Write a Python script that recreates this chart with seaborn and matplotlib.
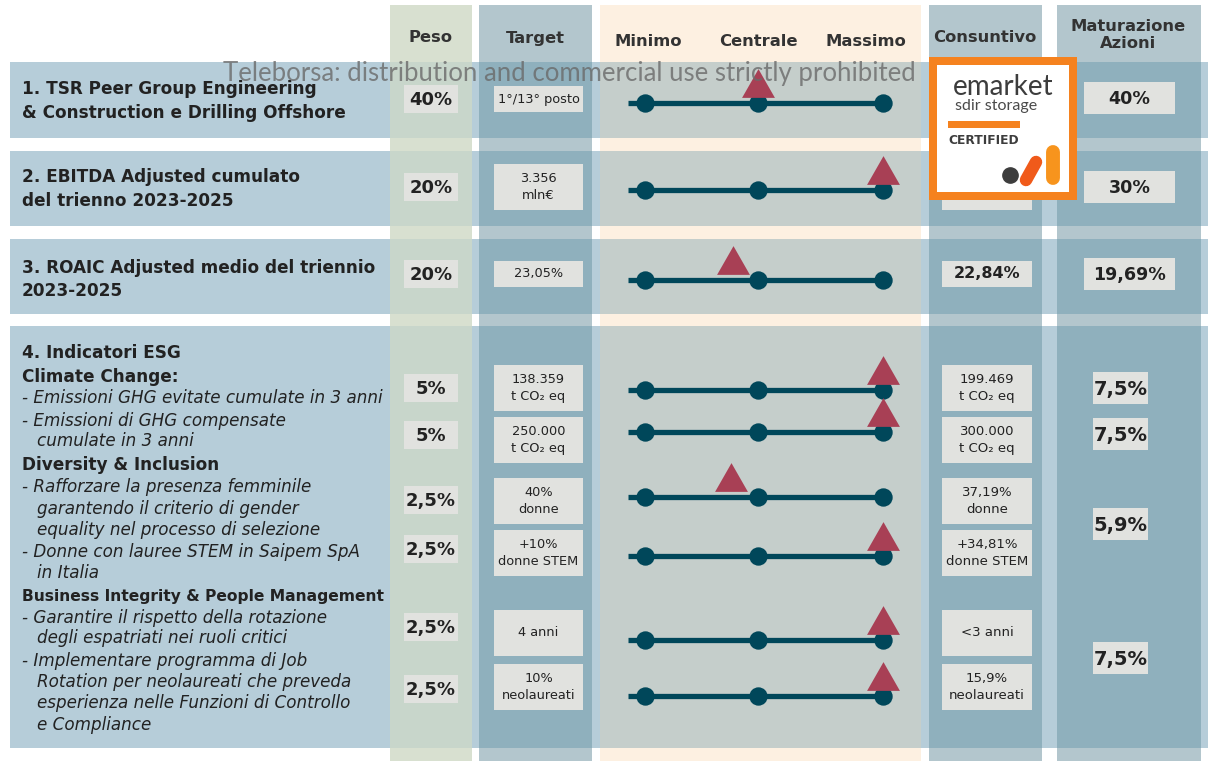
import numpy as np
import pandas as pd
import matplotlib
matplotlib.use("Agg")
import matplotlib.pyplot as plt
from matplotlib.patches import Rectangle
import seaborn as sns

# ---------------- data ----------------
headers = ["Peso", "Target", "Minimo", "Centrale", "Massimo", "Consuntivo", "Maturazione\nAzioni"]
peso = ["40%", "20%", "20%", "5%", "5%", "2,5%", "2,5%", "2,5%", "2,5%"]
target = ["1°/13° posto", "3.356\nmln€", "23,05%",
          "138.359\nt CO₂ eq", "250.000\nt CO₂ eq", "40%\ndonne",
          "+10%\ndonne STEM", "4 anni", "10%\nneolaureati"]
consuntivo = ["", "", "22,84%",
              "199.469\nt CO₂ eq", "300.000\nt CO₂ eq", "37,19%\ndonne",
              "+34,81%\ndonne STEM", "<3 anni", "15,9%\nneolaureati"]
# achievement on the scale 0 = Minimo, 1 = Centrale, 2 = Massimo
scale_levels = [0, 1, 2]
achievement = [1.0, 2.0, 0.78, 2.0, 2.0, 0.76, 2.0, 2.0, 2.0]
maturazione = ["40%", "30%", "19,69%", "7,5%", "7,5%", "5,9%", "7,5%"]

section_lines = [
    ("1. TSR Peer Group Engineering", "b"), ("& Construction e Drilling Offshore", "b"),
    ("2. EBITDA Adjusted cumulato", "b"), ("del trienno 2023-2025", "b"),
    ("3. ROAIC Adjusted medio del triennio", "b"), ("2023-2025", "b"),
    ("4. Indicatori ESG", "b"), ("Climate Change:", "b"),
    ("- Emissioni GHG evitate cumulate in 3 anni", "i"),
    ("- Emissioni di GHG compensate", "i"), ("cumulate in 3 anni", "i2"),
    ("Diversity & Inclusion", "b"),
    ("- Rafforzare la presenza femminile", "i"), ("garantendo il criterio di gender", "i2"),
    ("equality nel processo di selezione", "i2"),
    ("- Donne con lauree STEM in Saipem SpA", "i"), ("in Italia", "i2"),
    ("Business Integrity & People Management", "bs"),
    ("- Garantire il rispetto della rotazione", "i"), ("degli espatriati nei ruoli critici", "i2"),
    ("- Implementare programma di Job", "i"), ("Rotation per neolaureati che preveda", "i2"),
    ("esperienza nelle Funzioni di Controllo", "i2"), ("e Compliance", "i2"),
]

# ---------------- layout (pixels) ----------------
W, H = 1208, 761
line_y = [103, 190, 280, 390, 432, 497, 556, 640, 696]
peso_y = [99, 187, 274, 388, 435, 500, 549, 627, 689]
box_y = [99, 187, 274, 388, 440, 501, 553, 633, 687]
mat_y = [98, 187, 274, 388, 434, 524, 658]
label_y = [89, 113, 177, 201, 268, 291, 353, 377, 398, 421, 441, 465, 487, 509, 530,
           552, 573, 596, 618, 638, 661, 682, 703, 725]
row_bands = [(62, 138), (151, 226), (239, 314), (326, 748)]
cols = [(390, 472, "#d8e0d0", "#c8d6cb"), (479, 592, "#b3c6cd", "#8fb0bd"),
        (600, 921, "#fdf0e1", "#c5cecb"), (929, 1042, "#b3c6cd", "#8fb0bd"),
        (1057, 1201, "#b3c6cd", "#8fb0bd")]
scale_px = [645, 758, 883]

sns.set_theme(style="white")
plt.rcParams["font.family"] = ["DejaVu Sans"]

fig = plt.figure(figsize=(W / 100, H / 100), dpi=100)
ax = fig.add_axes([0, 0, 1, 1])
ax.set_xlim(0, W)
ax.set_ylim(H, 0)
ax.axis("off")

TXT = "#222222"
BOX = "#e1e2df"

def rect(x0, y0, x1, y1, color, z):
    ax.add_patch(Rectangle((x0, y0), x1 - x0, y1 - y0, facecolor=color, edgecolor="none", zorder=z))

# columns (outside rows)
for x0, x1, c_out, c_in in cols:
    rect(x0, 5, x1, H, c_out, 1)
# row bands
for y0, y1 in row_bands:
    rect(10, y0, W, y1, "#b6cdd9", 2)
    for x0, x1, c_out, c_in in cols:
        rect(x0, y0, x1, y1, c_in, 3)

# headers
hx = [431, 535, 648, 758, 866, 985, 1128]
hy = [38, 38, 42, 42, 42, 38, 35]
for t, x, y in zip(headers, hx, hy):
    ax.text(x, y, t, ha="center", va="center", fontsize=11.8, fontweight="bold",
            color="#333333", linespacing=1.2, zorder=6)

# section labels
for (t, st), y in zip(section_lines, label_y):
    if st in ("b", "bs"):
        ax.text(22, y, t, ha="left", va="center", fontsize=12.2 if st == "b" else 11.2,
                fontweight="bold", color=TXT, zorder=6)
    else:
        x = 22 if st == "i" else 37
        ax.text(x, y, t, ha="left", va="center", fontsize=12.1,
                fontstyle="italic", color=TXT, zorder=6)

# peso boxes
for t, y in zip(peso, peso_y):
    rect(404, y - 14, 458, y + 14, BOX, 4)
    ax.text(431, y + 1, t, ha="center", va="center", fontsize=13, fontweight="bold", color=TXT, zorder=6)

# target & consuntivo boxes
for i, (t, c, y) in enumerate(zip(target, consuntivo, box_y)):
    h = 13 if i in (0, 2) else 23
    rect(494, y - h, 583, y + h, BOX, 4)
    ax.text(538.5, y, t, ha="center", va="center", fontsize=9.3,
            color=TXT, linespacing=1.4, zorder=6)
    rect(942, y - h, 1032, y + h, BOX, 4)
    ax.text(987, y, c, ha="center", va="center", fontsize=11.5 if i == 2 else 9.5,
            fontweight="bold" if i == 2 else "normal", color=TXT, linespacing=1.4, zorder=6)

# maturazione boxes
for i, (t, y) in enumerate(zip(maturazione, mat_y)):
    if i < 3:
        rect(1084, y - 16, 1175, y + 16, BOX, 4)
        ax.text(1129.5, y + 1, t, ha="center", va="center", fontsize=12.6, fontweight="bold", color=TXT, zorder=6)
    else:
        rect(1093, y - 16, 1148, y + 16, BOX, 4)
        ax.text(1120.5, y + 1, t, ha="center", va="center", fontsize=14, fontweight="bold", color=TXT, zorder=6)

# dumbbell scale
TEAL = "#00475a"
ax.hlines(line_y, 628, scale_px[-1], color=TEAL, lw=3.8, zorder=7)
dots = pd.DataFrame([(np.interp(l, scale_levels, scale_px), y) for y in line_y for l in scale_levels],
                    columns=["x", "y"])
sns.scatterplot(data=dots, x="x", y="y", s=175, color=TEAL, linewidth=0, ax=ax, zorder=8, legend=False)

tri_marker = [(-1, -0.875), (1, -0.875), (0, 0.875), (-1, -0.875)]
tris = pd.DataFrame({"x": np.interp(achievement, scale_levels, scale_px),
                     "y": np.array(line_y) - 20})
sns.scatterplot(data=tris, x="x", y="y", marker=tri_marker, s=560, color="#a84055",
                linewidth=0, ax=ax, zorder=9, legend=False)

# watermark
ax.text(569, 74, "Teleborsa: distribution and commercial use strictly prohibited",
        ha="center", va="center", fontsize=18.5, color="#6a6a6a", alpha=0.8,
        family=["Lato", "DejaVu Sans"], zorder=12)

# certification badge
rect(929, 57, 1077, 200, "#f5821f", 13)
rect(937, 65, 1069, 192, "white", 14)
ax.text(1003, 87, "emarket", ha="center", va="center", fontsize=20, color="#3d3d3d",
        family=["Lato", "DejaVu Sans"], zorder=15)
ax.text(996, 106, "sdir storage", ha="center", va="center", fontsize=11.5, color="#4a4a4a",
        family=["Lato", "DejaVu Sans"], zorder=15)
rect(948, 121, 1020, 128, "#f5821f", 15)
ax.text(948, 140, "CERTIFIED", ha="left", va="center", fontsize=8.8, fontweight="bold",
        color="#3d3d3d", zorder=15)
ax.plot([1010], [175], "o", ms=11, color="#3d3d3d", zorder=15)
ax.plot([1026, 1036], [180, 162], color="#f05a1a", lw=9, solid_capstyle="round", zorder=15)
ax.plot([1053, 1053], [178, 152], color="#f7941d", lw=10, solid_capstyle="round", zorder=15)

fig.savefig("out.png", dpi=100)
